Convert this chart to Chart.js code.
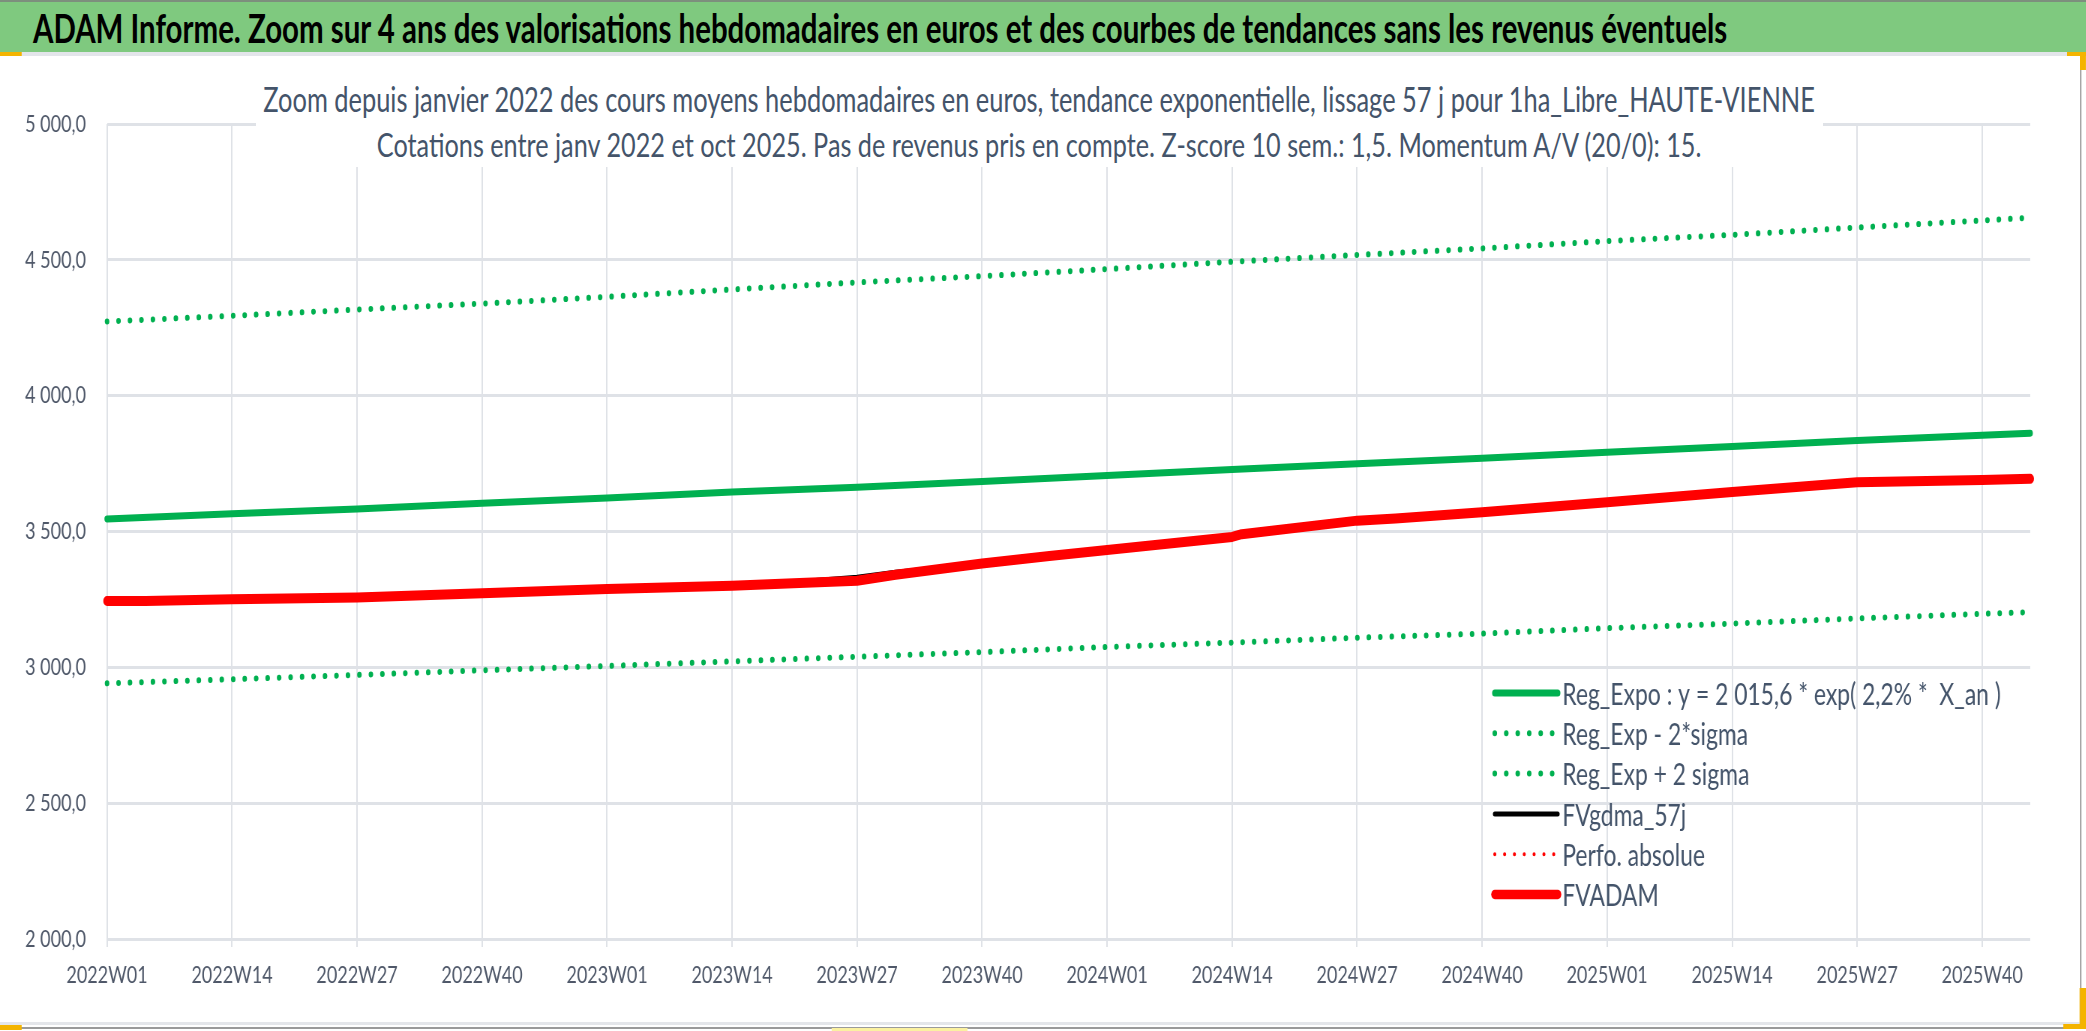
<!DOCTYPE html>
<html lang="fr">
<head>
<meta charset="utf-8">
<title>ADAM Informe</title>
<script src="https://cdn.jsdelivr.net/npm/chart.js@4.4.0/dist/chart.umd.min.js"></script>
<style>
    html, body { margin: 0; padding: 0; background: #fff; overflow: hidden; }
    /* the reference is horizontally squeezed, so the whole page is drawn wider and scaled down */
    #page { position: absolute; left: 0; top: 0; width: 2782px; height: 1031px; transform: scaleX(0.75); transform-origin: 0 0; font-family: Lato, sans-serif; }
    #bar { position: absolute; left: 0; top: 0; width: 2782px; height: 52px; background: #7fc97f; border-top: 2px solid #7d8f7d; box-sizing: border-box; }
    #bar span { position: absolute; left: 44px; top: 0; line-height: 52px; font-weight: bold; color: #000; white-space: nowrap; font-size: 32px; }
    #sep { position: absolute; left: 0; top: 52px; width: 2782px; height: 4px; background: #e3e5ea; }
    #chart { position: absolute; left: 0; top: 0; }
    #titleBox { position: absolute; left: 341px; top: 72px; width: 2089px; height: 95px; background: #fff; }
    .tl { position: absolute; left: 0; width: 100%; text-align: center; color: #44546a; white-space: nowrap; line-height: 45px; font-size: 30px; }
    .deco { position: absolute; }
</style>
</head>
<body>
<div id="page">
    <canvas id="chart" width="2782" height="1031"></canvas>
    <div id="bar"><span id="barText">ADAM Informe. Zoom sur 4 ans des valorisations hebdomadaires en euros et des courbes de tendances sans les revenus éventuels</span></div>
    <div id="sep"></div>
    <div id="titleBox">
        <div class="tl" id="t1" style="top:5px">Zoom depuis janvier 2022 des cours moyens hebdomadaires en euros, tendance exponentielle, lissage 57 j pour 1ha_Libre_HAUTE-VIENNE</div>
        <div class="tl" id="t2" style="top:50px">Cotations entre janv 2022 et oct 2025. Pas de revenus pris en compte. Z-score 10 sem.: 1,5. Momentum A/V (20/0): 15.</div>
    </div>
    <div class="deco" style="left:0;top:52px;width:29px;height:4px;background:#f4b400"></div>
    <div class="deco" style="left:2756px;top:52px;width:26px;height:4px;background:#f4b400"></div>
    <div class="deco" style="left:2773px;top:52px;width:9px;height:18px;background:#f4b400"></div>
    <div class="deco" style="left:2773px;top:70px;width:2px;height:957px;background:#9a9a9a"></div>
    <div class="deco" style="left:0;top:1022px;width:2773px;height:3px;background:#e4e6ea"></div>
    <div class="deco" style="left:0;top:1027px;width:2775px;height:2px;background:#9a9a9a"></div>
    <div class="deco" style="left:0;top:1025px;width:29px;height:5px;background:#f4b400"></div>
    <div class="deco" style="left:1109px;top:1028px;width:181px;height:3px;background:#fbf1a0"></div>
    <div class="deco" style="left:2773px;top:988px;width:9px;height:40px;background:#f4b400"></div>
    <div class="deco" style="left:2751px;top:1024px;width:31px;height:5px;background:#f4b400"></div>
</div>
<script>
// week index 0 = 2022W01
const tickWeeks = [0, 13, 26, 39, 52, 65, 78, 91, 104, 117, 130, 143, 156, 169, 182, 195];
const tickLabels = ['2022W01', '2022W14', '2022W27', '2022W40', '2023W01', '2023W14', '2023W27', '2023W40',
    '2024W01', '2024W14', '2024W27', '2024W40', '2025W01', '2025W14', '2025W27', '2025W40'];
const lastWeek = 200;

const trendWeeks = [0, 13, 26, 39, 52, 65, 78, 91, 104, 117, 130, 143, 156, 169, 182, 195, 200];
const regExpo = [3546, 3565, 3583, 3604, 3623, 3645, 3663, 3684, 3706, 3728, 3749, 3770, 3792, 3813, 3835, 3854, 3862];
const regExpMinus = [2941, 2956, 2972, 2989, 3005, 3022, 3039, 3056, 3075, 3091, 3109, 3124, 3144, 3161, 3180, 3197, 3203];
const regExpPlus = [4273, 4294, 4317, 4339, 4364, 4391, 4417, 4440, 4466, 4493, 4518, 4542, 4569, 4592, 4619, 4645, 4655];

const fvWeeks = [0, 4, 13, 26, 39, 52, 65, 72, 78, 82, 89, 91, 98, 104, 117, 118, 130, 134, 143, 156, 169, 182, 195, 200];
const fvadam = [3244, 3244, 3251, 3257, 3273, 3288, 3300, 3310, 3319, 3341, 3373, 3382, 3410, 3432, 3480, 3490, 3540, 3548, 3571, 3608, 3645, 3681, 3690, 3694];
const fvgdma = [3244, 3244, 3251, 3257, 3273, 3288, 3300, 3315, 3332, 3350, 3374, 3382, 3410, 3432, 3480, 3490, 3540, 3548, 3571, 3608, 3645, 3681, 3690, 3694];
const perfoAbsolue = [3244, 3244, 3251, 3257, 3273, 3288, 3300, 3310, 3319, 3341, 3373, 3382, 3410, 3432, 3480, 3490, 3540, 3548, 3571, 3608, 3645, 3681, 3690, 3694];

const pts = (xs, ys) => xs.map((x, i) => ({ x: x, y: ys[i] }));

const labelColor = '#4f5869';
const gridColor = '#dfe2e7';

// fit the html titles to the widths measured on the reference
function fitWidth(el, target) {
    const base = parseFloat(getComputedStyle(el).fontSize);
    const w = el.scrollWidth || el.offsetWidth;
    el.style.fontSize = (base * target / w).toFixed(2) + 'px';
}
const span = document.getElementById('barText');
span.style.position = 'absolute';
fitWidth(span, 2260);
['t1', 't2'].forEach((id, i) => {
    const el = document.getElementById(id);
    const probe = document.createElement('span');
    probe.textContent = el.textContent;
    probe.style.cssText = 'position:absolute;visibility:hidden;white-space:nowrap;font-family:Lato;font-size:30px';
    document.body.appendChild(probe);
    const w = probe.offsetWidth;
    probe.remove();
    el.style.fontSize = (30 * [2069, 1767][i] / w).toFixed(2) + 'px';
});

const insideLegend = {
    id: 'insideLegend',
    afterDatasetsDraw(chart, args, opts) {
        const ctx = chart.ctx;
        ctx.save();
        ctx.font = '30px Lato';
        const size = 30 * opts.firstWidth / ctx.measureText(chart.data.datasets[0].label).width;
        ctx.font = size.toFixed(2) + 'px Lato';
        ctx.fillStyle = opts.color;
        ctx.textBaseline = 'middle';
        chart.data.datasets.forEach((ds, i) => {
            const y = opts.top + i * opts.rowGap;
            ctx.beginPath();
            ctx.strokeStyle = ds.borderColor;
            ctx.lineWidth = ds.legendWidth || ds.borderWidth;
            ctx.lineCap = 'round';
            ctx.setLineDash(ds.legendDash || ds.borderDash || []);
            ctx.moveTo(opts.x, y);
            ctx.lineTo(opts.x + opts.lineLen, y);
            ctx.stroke();
            ctx.setLineDash([]);
            ctx.fillText(ds.label, opts.x + opts.lineLen + opts.gap, y + 2);
        });
        ctx.restore();
    }
};

new Chart(document.getElementById('chart'), {
    type: 'line',
    data: {
        datasets: [
            {
                label: 'Reg_Expo : y = 2 015,6 * exp( 2,2% *  X_an )',
                data: pts(trendWeeks, regExpo),
                borderColor: '#00b050', borderWidth: 7, order: 3
            },
            {
                label: 'Reg_Exp - 2*sigma',
                data: pts(trendWeeks, regExpMinus),
                borderColor: '#00b050', borderWidth: 6, borderDash: [0.1, 15.2], order: 4
            },
            {
                label: 'Reg_Exp + 2 sigma',
                data: pts(trendWeeks, regExpPlus),
                borderColor: '#00b050', borderWidth: 6, borderDash: [0.1, 15.2], order: 5
            },
            {
                label: 'FVgdma_57j',
                data: pts(fvWeeks, fvgdma),
                borderColor: '#000000', borderWidth: 5, order: 1
            },
            {
                label: 'Perfo. absolue',
                data: pts(fvWeeks, perfoAbsolue),
                borderColor: '#ff0000', borderWidth: 4, borderDash: [0.1, 13], order: 2
            },
            {
                label: 'FVADAM',
                data: pts(fvWeeks, fvadam),
                borderColor: '#ff0000', borderWidth: 10, legendWidth: 9.5, order: 0
            }
        ]
    },
    options: {
        responsive: false,
        animation: false,
        devicePixelRatio: 1,
        layout: { padding: { top: 124, right: 75, bottom: 32, left: 0 } },
        elements: {
            point: { radius: 0 },
            line: { tension: 0, borderCapStyle: 'round', borderJoinStyle: 'round', fill: false }
        },
        datasets: { line: { clip: 12 } },
        plugins: {
            legend: { display: false },
            tooltip: { enabled: false },
            insideLegend: { x: 1993, top: 693, rowGap: 40.3, lineLen: 84, gap: 6, firstWidth: 585, color: '#44546a' }
        },
        scales: {
            x: {
                type: 'linear',
                min: 0,
                max: lastWeek,
                afterBuildTicks: axis => { axis.ticks = tickWeeks.map(v => ({ value: v })); },
                afterFit: axis => { axis.height = 60; },
                ticks: {
                    autoSkip: false,
                    maxRotation: 0,
                    padding: 14,
                    color: labelColor,
                    font: { family: 'Lato', size: 24 },
                    callback: (v, i) => tickLabels[i]
                },
                grid: { color: gridColor, lineWidth: 2, tickLength: 8, drawTicks: true },
                border: { display: false }
            },
            y: {
                min: 2000,
                max: 5000,
                afterFit: axis => { axis.width = 142.7; },
                ticks: {
                    stepSize: 500,
                    padding: 28,
                    color: labelColor,
                    font: { family: 'Lato', size: 24 },
                    callback: v => String(v).replace(/\B(?=(\d{3})+$)/g, ' ') + ',0'
                },
                grid: { color: gridColor, lineWidth: 3, drawTicks: false },
                border: { display: false }
            }
        }
    },
    plugins: [insideLegend]
});
</script>
</body>
</html>
